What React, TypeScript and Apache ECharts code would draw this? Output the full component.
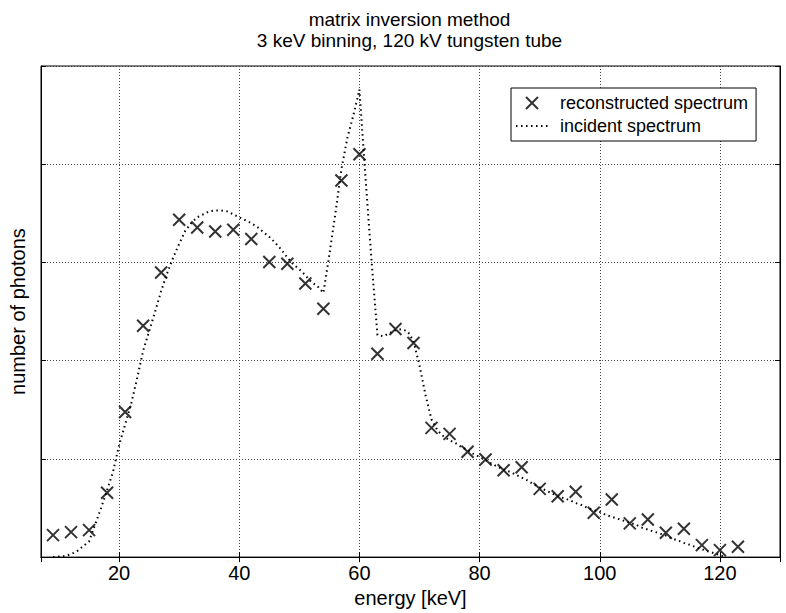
import React, { useEffect, useRef } from "react";
import * as echarts from "echarts";

const titleLines = ["matrix inversion method", "3 keV binning, 120 kV tungsten tube"];
const xAxisName = "energy [keV]";
const yAxisName = "number of photons";
const reconName = "reconstructed spectrum";
const incidentName = "incident spectrum";

const reconEnergy = [9, 12, 15, 18, 21, 24, 27, 30, 33, 36, 39, 42, 45, 48, 51, 54, 57, 60, 63, 66, 69, 72, 75, 78, 81, 84, 87, 90, 93, 96, 99, 102, 105, 108, 111, 114, 117, 120, 123];
const reconCounts = [0.224, 0.254, 0.275, 0.655, 1.478, 2.356, 2.898, 3.434, 3.356, 3.315, 3.332, 3.238, 3.004, 2.987, 2.786, 2.529, 3.834, 4.102, 2.071, 2.322, 2.18, 1.316, 1.255, 1.072, 0.993, 0.885, 0.915, 0.695, 0.62, 0.665, 0.451, 0.587, 0.343, 0.383, 0.248, 0.289, 0.122, 0.071, 0.106];

const incidentEnergy = [9, 10, 11, 12, 13, 14, 15, 16, 17, 18, 19, 20, 21, 22, 23, 24, 25, 26, 27, 28, 29, 30, 31, 32, 33, 34, 35, 36, 37, 38, 39, 40, 41, 42, 43, 44, 45, 46, 47, 48, 49, 50, 51, 52, 53, 54, 55, 56, 57, 58, 59, 60, 61, 62, 63, 64, 65, 66, 67, 68, 69, 70, 71, 72, 73, 74, 75, 76, 77, 78, 79, 80, 81, 82, 83, 84, 85, 86, 87, 88, 89, 90, 91, 92, 93, 94, 95, 96, 97, 98, 99, 100, 101, 102, 103, 104, 105, 106, 107, 108, 109, 110, 111, 112, 113, 114, 115, 116, 117, 118, 119, 120, 121];
const incidentCounts = [0, 0.005, 0.01, 0.03, 0.06, 0.11, 0.16, 0.33, 0.5, 0.68, 0.87, 1.14, 1.35, 1.56, 1.82, 2.1, 2.3, 2.5, 2.71, 2.89, 3.05, 3.19, 3.32, 3.4, 3.46, 3.49, 3.52, 3.53, 3.53, 3.52, 3.49, 3.46, 3.43, 3.4, 3.36, 3.31, 3.26, 3.2, 3.13, 3.05, 2.98, 2.93, 2.87, 2.8, 2.76, 2.69, 3.08, 3.5, 3.95, 4.27, 4.5, 4.76, 3.87, 3.03, 2.26, 2.25, 2.28, 2.31, 2.32, 2.3, 2.2, 1.95, 1.65, 1.4, 1.29, 1.23, 1.19, 1.16, 1.12, 1.09, 1.05, 1.02, 0.99, 0.95, 0.92, 0.89, 0.87, 0.84, 0.81, 0.78, 0.74, 0.71, 0.68, 0.65, 0.62, 0.6, 0.58, 0.55, 0.53, 0.5, 0.48, 0.46, 0.43, 0.41, 0.39, 0.37, 0.35, 0.33, 0.3, 0.28, 0.26, 0.24, 0.22, 0.19, 0.17, 0.145, 0.125, 0.1, 0.08, 0.06, 0.04, 0.02, 0];

const FONT = "'Liberation Sans', Arial, sans-serif";
const TITLE_FONT = "'Liberation Sans Narrow', 'Liberation Sans', sans-serif";
const crossSymbol = "path://M0,0L10,10M10,0L0,10";

export default function App() {
  const ref = useRef<HTMLDivElement>(null);
  useEffect(() => {
    if (!ref.current) return;
    const chart = echarts.init(ref.current, undefined, { renderer: "svg" });
    const axisCommon = {
      type: "value" as const,
      axisLine: { show: true, lineStyle: { color: "#000", width: 1 } },
      axisTick: { show: true, inside: true, length: 5, lineStyle: { color: "#000" } },
    };
    chart.setOption({
      animation: false,
      backgroundColor: "#fff",
      textStyle: { fontFamily: FONT, color: "#000" },
      title: {
        text: titleLines.join("\n"),
        left: 409.5,
        top: 9,
        padding: 0,
        textAlign: "center",
        textStyle: { fontFamily: TITLE_FONT, fontSize: 19, fontWeight: "normal", color: "#000", lineHeight: 21 },
      },
      grid: { left: 39, right: 6, top: 66, bottom: 55, show: true, borderColor: "#000", borderWidth: 1, backgroundColor: "#fff" },
      legend: {
        orient: "vertical",
        left: 511,
        top: 88,
        padding: [6, 8, 6, 4],
        itemGap: 5,
        itemWidth: 32,
        itemHeight: 12,
        borderColor: "#000",
        borderWidth: 1,
        borderRadius: 0,
        backgroundColor: "#fff",
        textStyle: { fontFamily: FONT, fontSize: 18, color: "#000", padding: [0, 0, 0, 7] },
        data: [
          { name: reconName },
          { name: incidentName, itemStyle: { opacity: 0 } },
        ],
      },
      xAxis: [
        {
          ...axisCommon,
          position: "bottom",
          min: 7,
          max: 130,
          splitNumber: 6,
          name: xAxisName,
          nameLocation: "middle",
          nameGap: 29,
          nameTextStyle: { fontFamily: FONT, fontSize: 20, color: "#000" },
          axisLabel: { show: true, fontFamily: FONT, fontSize: 20, color: "#000", margin: 6, showMinLabel: false, showMaxLabel: false },
          splitLine: { show: true, lineStyle: { color: "#444", type: [1, 2], width: 1 } },
        },
        {
          ...axisCommon,
          position: "top",
          min: 7,
          max: 130,
          splitNumber: 6,
          axisLabel: { show: false },
          splitLine: { show: false },
        },
      ],
      yAxis: [
        {
          ...axisCommon,
          position: "left",
          min: 0,
          max: 5,
          interval: 1,
          name: yAxisName,
          nameLocation: "middle",
          nameGap: 13,
          nameTextStyle: { fontFamily: FONT, fontSize: 20, color: "#000" },
          axisLabel: { show: false },
          splitLine: { show: true, lineStyle: { color: "#444", type: [1, 2], width: 1 } },
        },
        {
          ...axisCommon,
          position: "right",
          min: 0,
          max: 5,
          interval: 1,
          axisLabel: { show: false },
          splitLine: { show: false },
        },
      ],
      series: [
        {
          name: incidentName,
          type: "line",
          xAxisIndex: 0,
          yAxisIndex: 0,
          data: incidentEnergy.map((e, i) => [e, incidentCounts[i]]),
          showSymbol: false,
          symbol: "none",
          lineStyle: { color: "#000", width: 2, type: [1.5, 3.5] },
          itemStyle: { color: "transparent" },
          z: 2,
        },
        {
          name: reconName,
          type: "scatter",
          xAxisIndex: 0,
          yAxisIndex: 0,
          data: reconEnergy.map((e, i) => [e, reconCounts[i]]),
          symbol: crossSymbol,
          symbolSize: 12,
          itemStyle: { color: "none", borderColor: "#000", borderWidth: 2 },
          z: 3,
        },
      ],
    });
    return () => chart.dispose();
  }, []);
  return <div ref={ref} style={{ position: "fixed", left: 0, top: 0, width: 786, height: 613 }} />;
}
